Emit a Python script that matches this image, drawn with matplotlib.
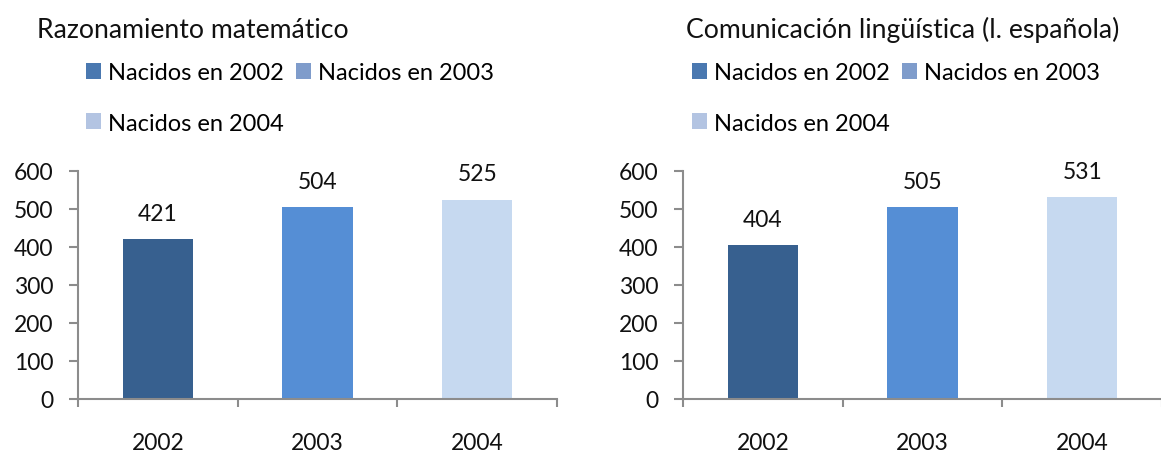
import matplotlib
matplotlib.use("Agg")
import matplotlib.pyplot as plt
from matplotlib.patches import Patch

plt.rcParams['font.family'] = ['Lato', 'DejaVu Sans']

years = ["2002", "2003", "2004"]
seriesNames = ["Nacidos en 2002", "Nacidos en 2003", "Nacidos en 2004"]
mathScores = [421, 504, 525]
langScores = [404, 505, 531]
titles = ["Razonamiento matemático", "Comunicación lingüística (l. española)"]

barColors = ["#37608f", "#558ed5", "#c6d9f0"]
legendColors = ["#4a78b0", "#7f9ccb", "#b3c4e2"]

fig = plt.figure(figsize=(11.61, 4.52), dpi=100)

def drawPanel(left, values, title, titleX, legendX):
    ax = fig.add_axes([left, 52 / 452, 479 / 1161, 228 / 452])
    xs = range(len(years))
    ax.bar(xs, values, width=0.44, color=barColors, zorder=2)
    for x, v in zip(xs, values):
        ax.annotate(str(v), (x, v), xytext=(0, 14), textcoords="offset points",
                    ha="center", va="baseline", fontsize=16.5, color="#111111")
    ax.set_xlim(-0.5, len(years) - 0.5)
    ax.set_ylim(0, 600)
    ax.set_yticks(range(0, 601, 100))
    ax.set_xticks(list(xs))
    ax.set_xticklabels(years)
    ax.set_xticks([i - 0.5 for i in range(len(years) + 1)], minor=True)
    for s in ["top", "right"]:
        ax.spines[s].set_visible(False)
    for s in ["left", "bottom"]:
        ax.spines[s].set_color("#8c8c8c")
        ax.spines[s].set_linewidth(1.5)
    ax.tick_params(axis="y", length=6.5, width=1.5, color="#8c8c8c", pad=11,
                   labelsize=16.5, labelcolor="#111111")
    ax.tick_params(axis="x", which="major", length=0, pad=24,
                   labelsize=16.5, labelcolor="#111111")
    ax.tick_params(axis="x", which="minor", length=6, width=1.5, color="#8c8c8c")
    fig.text(titleX, 1 - 38 / 452, title, fontsize=19.2, va="baseline", color="#111111")
    # legend filled row by row: 2002, 2003 / 2004
    order = [0, 2, 1]
    handles = [Patch(facecolor=legendColors[i], edgecolor="none") for i in order]
    labels = [seriesNames[i] for i in order]
    fig.legend(handles, labels, loc="upper left", ncol=2, frameon=False,
               bbox_to_anchor=(legendX, 1 - 63 / 452), fontsize=17,
               handlelength=0.65, handleheight=0.65, handletextpad=0.3,
               columnspacing=0.5, labelspacing=1.25, borderpad=0, borderaxespad=0)
    return ax

drawPanel(78 / 1161, mathScores, titles[0], 37 / 1161, 86 / 1161)
drawPanel(683 / 1161, langScores, titles[1], 686 / 1161, 692 / 1161)

fig.savefig("out.png", dpi=100)
